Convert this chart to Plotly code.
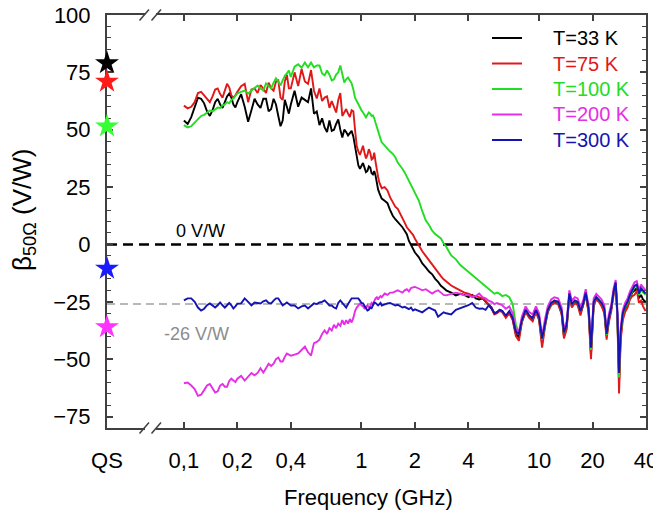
import math
import plotly.graph_objects as go

# ---------------- data ----------------
freq = [
    0.100, 0.105, 0.110, 0.115, 0.120, 0.125, 0.130, 0.135, 0.140, 0.145,
    0.150, 0.155, 0.160, 0.165, 0.170, 0.175, 0.180, 0.185, 0.190, 0.195,
    0.200, 0.21, 0.22, 0.23, 0.24, 0.25, 0.26, 0.27, 0.28, 0.29,
    0.30, 0.31, 0.32, 0.33, 0.34, 0.35, 0.36, 0.37, 0.38, 0.39,
    0.40, 0.42, 0.44, 0.46, 0.48, 0.50, 0.52, 0.54, 0.56, 0.58,
    0.60, 0.62, 0.64, 0.66, 0.68, 0.70, 0.72, 0.74, 0.76, 0.78,
    0.80, 0.82, 0.84, 0.86, 0.88, 0.90, 0.92, 0.94, 0.96, 0.98,
    1.00, 1.02, 1.04, 1.06, 1.08, 1.10, 1.12, 1.14, 1.16, 1.18,
    1.20, 1.22, 1.24, 1.26, 1.28, 1.30, 1.35, 1.40, 1.45, 1.50,
    1.55, 1.60, 1.65, 1.70, 1.75, 1.80, 1.85, 1.90, 1.95, 2.00,
    2.1, 2.2, 2.3, 2.4, 2.5, 2.6, 2.7, 2.8, 2.9, 3.0,
    3.2, 3.4, 3.6, 3.8, 4.0, 4.2, 4.4, 4.6, 4.8, 5.0,
    5.2, 5.4, 5.6, 5.8, 6.0, 6.2, 6.5, 6.8, 7.1, 7.4,
    7.7, 8.0, 8.4, 8.8, 9.2, 9.6, 10.0, 10.4, 10.8, 11.2,
    11.7, 12.2, 12.8, 13.4, 13.8, 14.3, 14.8, 15.3, 15.9, 16.5,
    17.1, 17.7, 18.3, 19.0, 19.6, 20.3, 21.0, 21.7, 22.5, 23.3,
    24.0, 24.7, 25.5, 26.3, 27.0, 27.6, 28.2, 28.8, 29.6, 30.5,
    31.5, 32.5, 33.5, 34.5, 35.5, 36.5, 37.5, 38.5, 39.8,
]

t33 = [
    54, 52.5, 55.5, 60, 64, 63.5, 61.5, 58, 56, 58.5,
    62, 63.5, 61, 59.5, 62, 64.5, 65.8, 64, 61, 59.7,
    62, 65.5, 60, 53.5, 58.5, 63.5, 61, 59.5, 63.5, 63.5,
    58, 59, 63.5, 61, 56, 51.5, 54, 63, 60, 57,
    61, 67, 60, 64, 63, 62, 68, 57, 58, 52,
    55, 51, 49, 54, 49.5, 50, 52.5, 54.5, 50, 46.6,
    50, 49, 47.5, 48.5, 49.5, 47, 43, 37.5, 34.5, 33,
    34.5, 35.5, 33.5, 31.5, 32, 34, 33.5, 31, 30.5, 32,
    30, 26, 24, 22.5, 21, 20, 19, 18, 15, 12.5,
    11, 9.8, 8.8, 7.5, 6, 4.5, 1.5, 0, -1.8, -3.5,
    -5.5, -8.3, -10, -11.8, -13, -15, -16.3, -18, -19, -20,
    -21, -22.2, -21.5, -22, -23, -22, -23.5, -24, -23.5, -25,
    -26, -27.5, -30, -29.5, -28.5, -29, -31.5, -29.5, -32.5, -39,
    -40.5, -33.5, -29, -31.5, -33, -29, -32.5, -43, -35, -29,
    -26, -25, -25.5, -30, -40, -36, -22, -27, -25, -26,
    -30, -26.5, -21.5, -29, -48, -26, -23.5, -24.5, -26, -29,
    -40, -33, -28, -21, -17, -31, -60, -40, -31.5, -28,
    -26, -23, -21, -20, -19, -23.5, -22, -24, -25,
]

t75 = [
    60.5, 59.3, 60, 62, 66, 66.5, 65, 63.5, 62, 64.5,
    67.5, 68, 65.5, 64, 67, 70, 68.5, 65, 64, 65,
    66.5, 69, 70, 62, 67.5, 68, 66, 69.5, 68, 66,
    70.5, 68, 67, 71, 71.5, 64, 63, 71, 74, 68,
    68, 75, 69, 76.5, 71, 70, 76, 67, 63.6, 68,
    62.5, 64, 64.5, 59.5, 62.5, 60, 57.5, 63, 66, 56,
    57.5, 59, 57, 55.5, 58.5, 58, 50, 43, 40.5, 39,
    41, 43, 40, 37.5, 39, 41.5, 40, 37, 37.5, 40,
    36, 32, 29.5, 27, 25.5, 24.5, 25, 23.5, 20.5, 18.5,
    16.5, 15.5, 13.5, 12, 9.5, 7.5, 6.5, 5.5, 4.2, 2.5,
    -0.5, -3, -5, -7, -8.8, -10.5, -12.5, -13.8, -15.2, -16.2,
    -17.9, -19, -20, -21, -21.5, -22.2, -22.5, -23, -23.5, -24.5,
    -26.5, -28, -30.5, -30, -29, -29.5, -32, -30, -33, -40,
    -42, -34, -29.5, -32, -33.5, -29.5, -33, -45, -36, -29.5,
    -26.5, -25.5, -26, -30.5, -41, -37, -22.5, -27.5, -25.5, -26.5,
    -31, -27, -22, -30, -50, -26.5, -24, -25, -27, -30,
    -41.5, -34, -29, -22, -17.5, -32, -65, -42, -33, -29.5,
    -27.5, -24, -22.5, -22, -20, -25.5, -24.5, -27, -29,
]

t100 = [
    52, 51, 51.5, 53, 54.5, 56, 56.5, 57.5, 58.4, 58,
    59, 59.7, 59.5, 60.6, 61, 62, 61.5, 63, 63.6, 64.5,
    65.8, 66.5, 67.1, 65.8, 67, 68, 69.3, 68, 67.1, 70.2,
    69, 68, 70.5, 72.4, 71, 69.3, 71.5, 73.5, 74.5, 75.8,
    73, 77.5, 78.5, 77, 79.3, 77.2, 79.3, 77.2, 78, 78,
    74.5, 73.7, 75.8, 74, 71.5, 72, 74, 75, 78, 74,
    70.6, 72, 72.8, 71.5, 70.2, 67.5, 64, 62.5, 61, 59.5,
    58.5, 57.5, 56.5, 55.4, 56.5, 57.5, 57, 56, 56.2, 55,
    53, 51, 49, 47.5, 46, 44.5, 43, 42, 40.5, 39.5,
    38, 35.7, 34.5, 33, 31.4, 29.5, 27.5, 25.7, 24, 22,
    19.2, 14.5, 10.5, 8.5, 6, 4.5, 3.5, 2.6, 0.5, -1,
    -4.8, -6.5, -9, -10.5, -12.2, -13.5, -14.5, -15.7, -17, -18,
    -19.5, -20.5, -21.5, -21, -21.5, -22.5, -22, -23, -26, -35,
    -38.5, -33, -28.5, -31, -32, -28.5, -31.5, -41.5, -34, -28.5,
    -25.5, -24.5, -25, -29, -38.5, -35, -21.5, -26, -24.5, -25,
    -29, -26, -21, -28, -46, -25, -23, -24, -25.5, -28,
    -39.5, -32, -27.5, -20.5, -16.8, -31, -58, -39, -30.5, -27.5,
    -25.5, -22.5, -20.5, -18.5, -18, -22, -20, -21, -22,
]

t200 = [
    -60.5, -60.2, -61.5, -63, -66, -65.5, -63.5, -61.5, -60.8, -62.5,
    -64.5, -64, -61.5, -60.8, -62, -62, -59.5, -58.5, -59.5, -60,
    -58.5, -57.3, -59.3, -57.5, -56, -57, -56, -54, -55.8, -54,
    -52, -53, -52, -50, -49.3, -51, -51, -49, -47.5, -48,
    -48.5, -48, -47.5, -46, -44.5, -47, -48.4, -43, -42.5, -41.5,
    -39, -37.5, -39, -36.5, -37.5, -35, -36.5, -34.5, -35.5, -33,
    -35, -33, -34.5, -32.5, -34, -32, -29, -27.5, -26.5, -25.8,
    -26.5, -27, -27.9, -27.5, -26.5, -27.5, -27, -25.5, -26, -24.5,
    -23.5, -23, -24, -23, -22.5, -23, -21.4, -22, -21, -21,
    -20.5, -20, -20.5, -21, -20, -19.5, -20.5, -19, -18.7, -18.5,
    -19.2, -20, -19.5, -20.5, -21.4, -20.5, -20, -21, -22, -22.2,
    -21.4, -21, -21.5, -22.2, -22, -23, -22.5, -21.4, -23, -23.5,
    -24.5, -25, -26, -25.5, -26, -26.5, -28, -27, -30, -37,
    -38, -31.5, -27, -29.5, -30.5, -27, -30, -40, -32.5, -27,
    -24, -23, -23.5, -27.5, -37, -33.5, -20, -24.5, -23, -23.5,
    -27.5, -24.5, -19.5, -26.5, -43.5, -23.5, -21.5, -22.5, -24, -26.5,
    -37.5, -30.5, -26, -19, -15.5, -28.5, -54, -36.5, -28.5, -25.5,
    -23.5, -20.5, -18.5, -16.5, -16, -20, -17.5, -18.5, -20,
]

t300 = [
    -24.4, -23.5, -23.5, -25, -27.5, -28.8, -28, -26.5, -25.7, -26.5,
    -27.5, -26.5, -25.3, -26.5, -27.5, -26.5, -25.5, -26.5, -27.9, -27,
    -25.8, -25.7, -23.5, -25, -26.6, -25.3, -25.5, -25.7, -24.8, -24.4,
    -25.5, -25.7, -24.5, -23.5, -23.5, -25, -26.6, -26, -25.3, -26,
    -26.6, -26.6, -27.9, -27, -26.6, -27.9, -26.8, -25.7, -26, -25.3,
    -25, -24.4, -25.5, -26.6, -26.6, -27.5, -27.9, -25.5, -24.4, -25.5,
    -26.5, -27.5, -26, -24.5, -23.5, -23.5, -23.5, -23.8, -23.5, -24.5,
    -25.5, -25.7, -27, -28, -28.8, -28.5, -27.5, -27.8, -26.5, -25.3,
    -25.5, -26, -26.6, -26, -25.5, -26.6, -26, -25.7, -25.5, -26,
    -26.6, -26.3, -27, -27.5, -27.2, -27.9, -28.2, -27.5, -28.8, -28.3,
    -29, -29.6, -28.5, -27.5, -28.2, -28.8, -31.5, -30.5, -29.6, -30,
    -30.5, -28.5, -27.9, -27, -26.5, -25.5, -27.5, -28, -27.9, -28.5,
    -26.6, -28, -30, -29.5, -28.5, -29, -31, -29, -32, -38,
    -39, -33, -28.5, -31, -32, -28.5, -31.6, -41, -34, -28.5,
    -25.5, -24.5, -25, -29, -38.4, -35, -21.4, -26, -24.4, -25,
    -29, -26, -21, -28, -45, -25, -23, -24, -25.5, -28,
    -39, -32, -27.5, -20.5, -16.6, -30, -56, -38, -30, -27,
    -25, -22, -20, -18, -17.5, -21.4, -19, -20, -21.4,
]

series_names = ["T=33 K", "T=75 K", "T=100 K", "T=200 K", "T=300 K"]
series_values = [t33, t75, t100, t200, t300]
line_colors = ["#000000", "#e01818", "#22dd22", "#e52ee5", "#1414b4"]
qs_values = [79, 71, 51.5, -10.5, -36]          # black, red, green, blue, magenta
qs_star_colors = ["#000000", "#ff1a1a", "#33ff33", "#1a1aff", "#ff33ff"]

tick_text = ["QS", "0,1", "0,2", "0,4", "1", "2", "4", "10", "20", "40"]
tick_freq = [0.1, 0.2, 0.4, 1, 2, 4, 10, 20, 40]
y_ticks = [-75, -50, -25, 0, 25, 50, 75, 100]
ref_levels = [0, -26]

for s in series_values:
    assert len(s) == len(freq), len(s)

# ---------------- figure ----------------
FONT = "Arial, Liberation Sans, sans-serif"
QS_POS = 0.0369            # the "QS" slot sits on the left frame
X_MAX = 40.0

fig = go.Figure()

for name, vals, col in zip(series_names, series_values, line_colors):
    fig.add_trace(go.Scatter(x=freq, y=vals, mode="lines", name=name,
                             line=dict(color=col, width=1.9),
                             showlegend=False))

fig.add_trace(go.Scatter(x=[QS_POS] * len(qs_values), y=qs_values, mode="markers",
                         marker=dict(symbol="star", size=18, color=qs_star_colors,
                                     line=dict(width=0)),
                         cliponaxis=False, showlegend=False))

# page body has an 8 px margin: figure is sized/placed to compensate
OFF = 8
W, H = 652, 508
PL, PR, PT, PB = 107, 646, 15, 428          # plot frame in screen pixels
L, T = PL - OFF, PT - OFF
R = W - (PR - OFF)
B = H - (PB - OFF)
pw, ph = PR - PL, PB - PT


def px_x(px):
    return (px - PL) / pw


def px_y(py):
    return (PB - py) / ph


shapes = []
annotations = []

# reference levels
shapes.append(dict(type="line", xref="paper", x0=0, x1=1, yref="y", y0=ref_levels[0], y1=ref_levels[0],
                   line=dict(color="#000000", width=2.5, dash="10px,6px"), layer="below"))
shapes.append(dict(type="line", xref="paper", x0=0, x1=1, yref="y", y0=ref_levels[1], y1=ref_levels[1],
                   line=dict(color="#b8b8b8", width=2, dash="8px,5px"), layer="below"))
annotations.append(dict(text="0 V/W", xref="paper", yref="y", x=px_x(200), y=ref_levels[0],
                        xanchor="center", yanchor="middle",
                        yshift=13, showarrow=False, font=dict(size=18, color="#000000", family=FONT)))
annotations.append(dict(text="-26 V/W", xref="paper", yref="y", x=px_x(196), y=ref_levels[1],
                        xanchor="center", yanchor="middle",
                        yshift=-30, showarrow=False, font=dict(size=18, color="#8c8c8c", family=FONT)))

# axis breaks (bottom and top)
for yb in (0, 1):
    shapes.append(dict(type="rect", xref="paper", yref="paper", x0=px_x(145), x1=px_x(156),
                       y0=yb - 0.008, y1=yb + 0.008, fillcolor="white", line=dict(width=0), layer="above"))
    for x0 in (139.5, 151.5):
        shapes.append(dict(type="line", xref="paper", yref="paper", x0=px_x(x0), x1=px_x(x0 + 9.5),
                           y0=yb - 0.0135, y1=yb + 0.0135, line=dict(color="#404040", width=1.5),
                           layer="above"))

# manual legend
leg_y = [38, 63.5, 89, 114.5, 140]
for name, col, yy in zip(series_names, line_colors, leg_y):
    shapes.append(dict(type="line", xref="paper", yref="paper", x0=px_x(492), x1=px_x(522),
                       y0=px_y(yy), y1=px_y(yy), line=dict(color=col, width=2), layer="above"))
    annotations.append(dict(text=name, xref="paper", yref="paper", x=px_x(551), y=px_y(yy),
                            xanchor="left", yanchor="middle", showarrow=False,
                            font=dict(size=20, color=col, family=FONT)))

# axis titles
annotations.append(dict(text="Frequency (GHz)", xref="paper", yref="paper", x=px_x(368), y=px_y(497),
                        xanchor="center", yanchor="middle", showarrow=False,
                        font=dict(size=22, color="#000000", family=FONT)))
annotations.append(dict(text="β<sub>50Ω</sub> (V/W)", xref="paper", yref="paper", x=px_x(23), y=px_y(210),
                        xanchor="center", yanchor="middle", textangle=-90, showarrow=False,
                        font=dict(size=26, color="#000000", family=FONT)))

fig.update_layout(
    width=W, height=H,
    margin=dict(l=L, r=R, t=T, b=B, autoexpand=False),
    paper_bgcolor="white", plot_bgcolor="white",
    font=dict(family=FONT, color="#000000"),
    shapes=shapes, annotations=annotations,
    showlegend=False,
)

fig.update_xaxes(
    type="log", range=[math.log10(QS_POS), math.log10(X_MAX)],
    tickmode="array", tickvals=[QS_POS] + tick_freq, ticktext=tick_text,
    ticks="inside", ticklen=6, tickwidth=1.5, tickcolor="#404040",
    showline=True, linecolor="#404040", linewidth=2, mirror="ticks",
    showgrid=False, zeroline=False, layer="below traces",
    tickfont=dict(size=22, color="#000000", family=FONT), ticklabelstandoff=12,
    ticklabeloverflow="allow",
)
fig.update_yaxes(
    range=[-80, 100], tickmode="array", tickvals=y_ticks,
    ticks="inside", ticklen=6, tickwidth=1.5, tickcolor="#404040",
    minor=dict(dtick=5, ticks="inside", ticklen=4, tickwidth=1.2, tickcolor="#404040"),
    showline=True, linecolor="#404040", linewidth=2, mirror="ticks",
    showgrid=False, zeroline=False, layer="below traces",
    tickfont=dict(size=22, color="#000000", family=FONT), ticklabelstandoff=10,
    ticklabeloverflow="allow",
)

fig.write_html("out.html")
